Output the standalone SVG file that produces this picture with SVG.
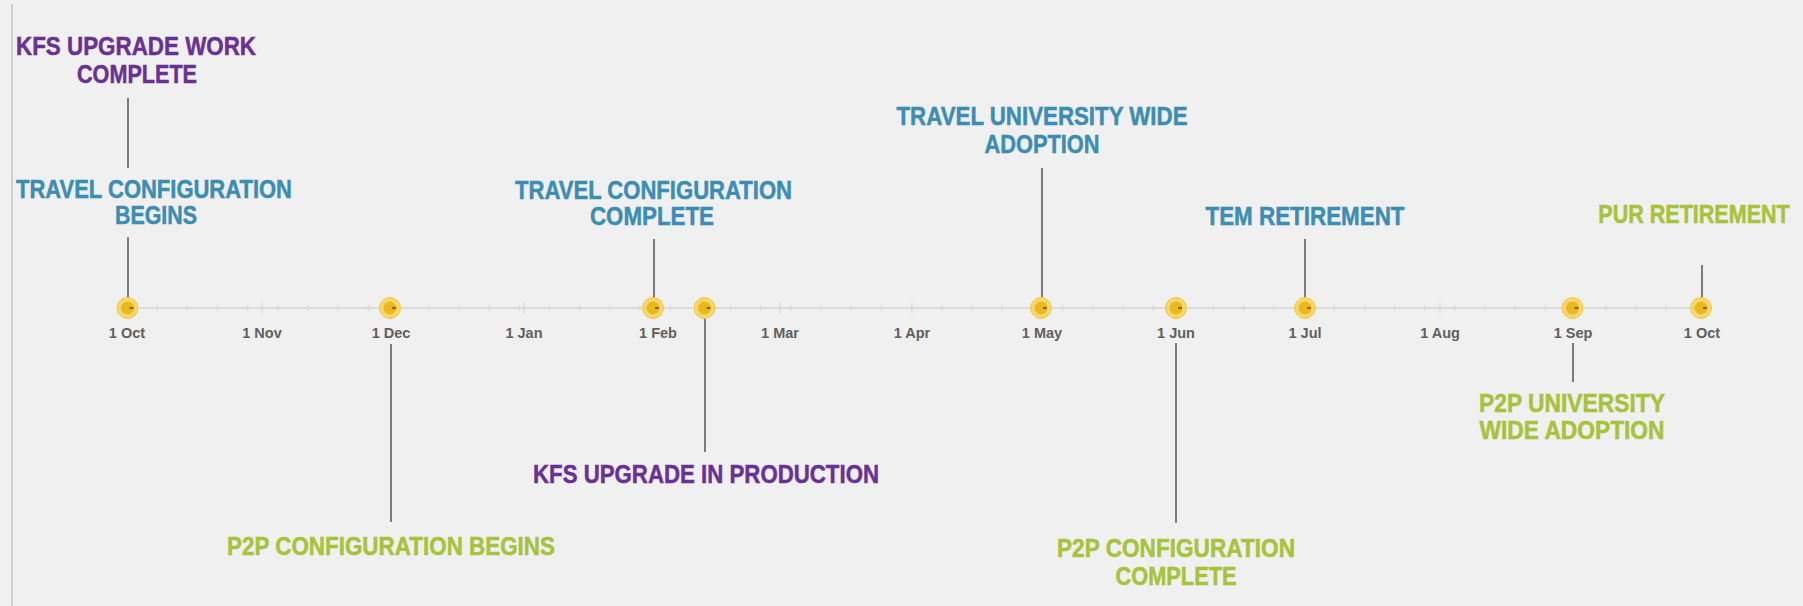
<svg xmlns="http://www.w3.org/2000/svg" width="1803" height="606" viewBox="0 0 1803 606">
<style>
.bg{fill:#f0f0f0}
.lbl{font-family:"Liberation Sans",Arial,sans-serif;font-weight:bold;font-size:25.5px;text-anchor:middle;stroke-width:0.5px}
.purple{fill:#6a3194;stroke:#6a3194}
.blue{fill:#3c8db3;stroke:#3c8db3}
.green{fill:#a7c23b;stroke:#a7c23b}
.month{font-family:"Liberation Sans",Arial,sans-serif;font-weight:bold;font-size:14.5px;fill:#5f5f5f;text-anchor:middle}
.conn line{stroke:#555;stroke-width:1.5}
.axis{stroke:#d6d6d6;stroke-width:1.5;fill:none}
.tick{stroke:#d6d6d6;stroke-width:1;fill:none}
.halo{fill:#f6d86a;stroke:#f1c94a;stroke-width:1}
.core{fill:#e9b81c}
.mark{stroke:#333;stroke-width:1.2}
</style>
<defs>
<g id="dot">
<circle r="10.5" class="halo"/>
<circle r="6.5" class="core"/>
<line x1="2" y1="0" x2="6" y2="0" class="mark"/>
</g>
</defs>
<rect class="bg" width="1803" height="606"/>
<line x1="12" y1="4" x2="12" y2="606" stroke="#c4c4c4" stroke-width="1.5"/>

<g id="axis">
<line class="axis" x1="127" y1="308" x2="1701" y2="308"/>
<path class="tick" d="M157.2 305v6M187.4 305v6M217.5 305v6M247.7 305v6M277.9 305v6M308.1 305v6M338.3 305v6M368.4 305v6M398.6 305v6M428.8 305v6M459 305v6M489.2 305v6M519.3 305v6M549.5 305v6M579.7 305v6M609.9 305v6M640.1 305v6M670.2 305v6M700.4 305v6M730.6 305v6M760.8 305v6M791 305v6M821.1 305v6M851.3 305v6M881.5 305v6M911.7 305v6M941.9 305v6M972 305v6M1002.2 305v6M1032.4 305v6M1062.6 305v6M1092.8 305v6M1122.9 305v6M1153.1 305v6M1183.3 305v6M1213.5 305v6M1243.7 305v6M1273.8 305v6M1304 305v6M1334.2 305v6M1364.4 305v6M1394.6 305v6M1424.7 305v6M1454.9 305v6M1485.1 305v6M1515.3 305v6M1545.5 305v6M1575.6 305v6M1605.8 305v6M1636 305v6M1666.2 305v6M1696.4 305v6"/>
<path class="tick" d="M262 302v12M391 302v12M524 302v12M658 302v12M780 302v12M912 302v12M1042 302v12M1176 302v12M1305 302v12M1440 302v12M1573 302v12"/>
</g>

<g id="months">
<text class="month" x="127" y="338">1 Oct</text>
<text class="month" x="262" y="338">1 Nov</text>
<text class="month" x="391" y="338">1 Dec</text>
<text class="month" x="524" y="338">1 Jan</text>
<text class="month" x="658" y="338">1 Feb</text>
<text class="month" x="780" y="338">1 Mar</text>
<text class="month" x="912" y="338">1 Apr</text>
<text class="month" x="1042" y="338">1 May</text>
<text class="month" x="1176" y="338">1 Jun</text>
<text class="month" x="1305" y="338">1 Jul</text>
<text class="month" x="1440" y="338">1 Aug</text>
<text class="month" x="1573" y="338">1 Sep</text>
<text class="month" x="1702" y="338">1 Oct</text>
</g>

<g id="connectors" class="conn">
<line x1="128" y1="98" x2="128" y2="168"/>
<line x1="128" y1="237" x2="128" y2="308"/>
<line x1="391" y1="308" x2="391" y2="319"/>
<line x1="391" y1="344" x2="391" y2="522"/>
<line x1="654" y1="239" x2="654" y2="308"/>
<line x1="705" y1="308" x2="705" y2="452"/>
<line x1="1042" y1="168" x2="1042" y2="308"/>
<line x1="1176" y1="308" x2="1176" y2="319"/>
<line x1="1176" y1="343" x2="1176" y2="523"/>
<line x1="1305" y1="239" x2="1305" y2="308"/>
<line x1="1573" y1="308" x2="1573" y2="319"/>
<line x1="1573" y1="343" x2="1573" y2="382"/>
<line x1="1702" y1="265" x2="1702" y2="308"/>
</g>

<g id="dots">
<use href="#dot" x="127.5" y="308"/>
<use href="#dot" x="390" y="308"/>
<use href="#dot" x="653" y="308"/>
<use href="#dot" x="704.5" y="308"/>
<use href="#dot" x="1041" y="308"/>
<use href="#dot" x="1176" y="308"/>
<use href="#dot" x="1305" y="308"/>
<use href="#dot" x="1572.5" y="308"/>
<use href="#dot" x="1701" y="308"/>
</g>

<g id="kfs-upgrade-work-complete">
<text class="lbl purple" x="136" y="55" textLength="240" lengthAdjust="spacingAndGlyphs">KFS UPGRADE WORK</text>
<text class="lbl purple" x="137" y="83" textLength="120" lengthAdjust="spacingAndGlyphs">COMPLETE</text>
</g>
<g id="travel-configuration-begins">
<text class="lbl blue" x="154" y="198" textLength="276" lengthAdjust="spacingAndGlyphs">TRAVEL CONFIGURATION</text>
<text class="lbl blue" x="156" y="224" textLength="82" lengthAdjust="spacingAndGlyphs">BEGINS</text>
</g>
<g id="travel-configuration-complete">
<text class="lbl blue" x="653.5" y="199" textLength="277" lengthAdjust="spacingAndGlyphs">TRAVEL CONFIGURATION</text>
<text class="lbl blue" x="652" y="225" textLength="124" lengthAdjust="spacingAndGlyphs">COMPLETE</text>
</g>
<g id="travel-university-wide-adoption">
<text class="lbl blue" x="1042" y="125" textLength="291" lengthAdjust="spacingAndGlyphs">TRAVEL UNIVERSITY WIDE</text>
<text class="lbl blue" x="1042" y="153" textLength="115" lengthAdjust="spacingAndGlyphs">ADOPTION</text>
</g>
<g id="tem-retirement">
<text class="lbl blue" x="1305" y="225" textLength="199" lengthAdjust="spacingAndGlyphs">TEM RETIREMENT</text>
</g>
<g id="pur-retirement">
<text class="lbl green" transform="translate(1694,223) scale(0.845,1)" x="0" y="0">PUR RETIREMENT</text>
</g>
<g id="p2p-configuration-begins">
<text class="lbl green" x="391" y="555" textLength="328" lengthAdjust="spacingAndGlyphs">P2P CONFIGURATION BEGINS</text>
</g>
<g id="kfs-upgrade-in-production">
<text class="lbl purple" x="706" y="483" textLength="346" lengthAdjust="spacingAndGlyphs">KFS UPGRADE IN PRODUCTION</text>
</g>
<g id="p2p-configuration-complete">
<text class="lbl green" x="1176" y="557" textLength="238" lengthAdjust="spacingAndGlyphs">P2P CONFIGURATION</text>
<text class="lbl green" x="1176" y="585" textLength="121" lengthAdjust="spacingAndGlyphs">COMPLETE</text>
</g>
<g id="p2p-university-wide-adoption">
<text class="lbl green" x="1572" y="412" textLength="186" lengthAdjust="spacingAndGlyphs">P2P UNIVERSITY</text>
<text class="lbl green" x="1572" y="439" textLength="185" lengthAdjust="spacingAndGlyphs">WIDE ADOPTION</text>
</g>
</svg>
